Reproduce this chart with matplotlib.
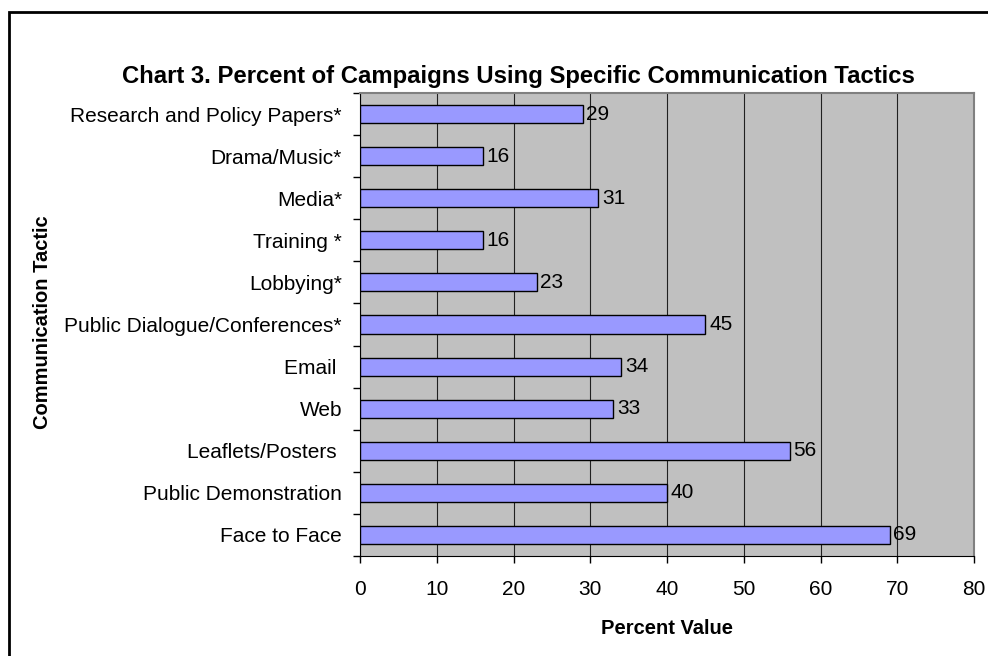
import matplotlib.pyplot as plt
from matplotlib.patches import Rectangle

# Data (bottom to top, as drawn)
tactics = ['Face to Face', 'Public Demonstration', 'Leaflets/Posters ', 'Web', 'Email ',
           'Public Dialogue/Conferences*', 'Lobbying*', 'Training *', 'Media*',
           'Drama/Music*', 'Research and Policy Papers*']
percents = [69, 40, 56, 33, 34, 45, 23, 16, 31, 16, 29]
x_ticks = [0, 10, 20, 30, 40, 50, 60, 70, 80]

plt.rcParams['font.family'] = 'Liberation Sans'

fig = plt.figure(figsize=(9.88, 6.56), dpi=100)
ax = fig.add_axes([360 / 988, 1 - 556 / 656, 614 / 988, 463 / 656])

# outer chart border
fig.patches.append(Rectangle((9 / 988, -0.1), 1.2, 1 - 12 / 656 + 0.1, transform=fig.transFigure,
                             fill=False, edgecolor='black', linewidth=2))

ax.set_facecolor('#c0c0c0')
pos = list(range(len(tactics)))
ax.barh(pos, percents, height=0.43, color='#9999ff', edgecolor='black', linewidth=1, zorder=3)

for p, v in zip(pos, percents):
    ax.text(v + 0.5, p, str(v), va='center', ha='left', fontsize=15, zorder=4)

ax.set_xlim(0, 80)
ax.set_ylim(-0.5, len(tactics) - 0.5)
ax.set_xticks(x_ticks)
ax.xaxis.grid(True, color='#202020', linewidth=0.8, zorder=1)
ax.set_axisbelow(True)

# category labels centred, ticks on the boundaries
ax.set_yticks(pos)
ax.set_yticklabels(tactics)
ax.set_yticks([p - 0.5 for p in pos] + [len(tactics) - 0.5], minor=True)
ax.tick_params(axis='y', which='major', length=0, pad=13, labelsize=15)
ax.tick_params(axis='y', which='minor', length=5, width=1, direction='out')
ax.tick_params(axis='x', length=5, width=1, direction='out', pad=12, labelsize=15)

for side in ['top', 'right']:
    ax.spines[side].set_color('#808080')
    ax.spines[side].set_linewidth(1.5)
ax.spines['left'].set_color('black')
ax.spines['bottom'].set_color('black')

fig.text(518 / 988, 1 - 76 / 656, 'Chart 3. Percent of Campaigns Using Specific Communication Tactics',
         fontsize=17.2, weight='bold', ha='center', va='center')
ax.set_xlabel('Percent Value', fontsize=14.5, weight='bold', labelpad=15)
fig.text(43 / 988, 1 - 322 / 656, 'Communication Tactic', fontsize=14.5, weight='bold',
         rotation=90, ha='center', va='center')

fig.savefig('out.png', dpi=100)
